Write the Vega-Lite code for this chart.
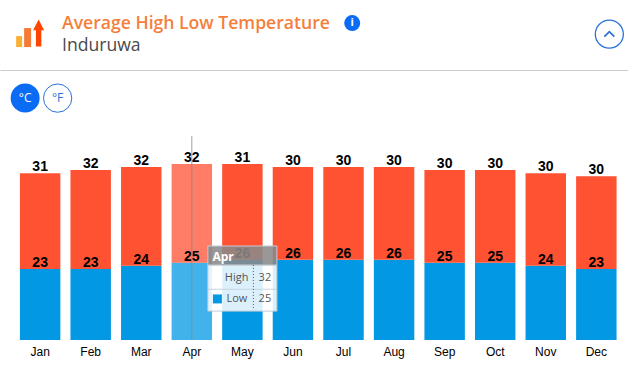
{
"$schema":"https://vega.github.io/schema/vega-lite/v6.json",
"width":628,"height":270,
"padding":{"left":0,"right":0,"top":70,"bottom":37},
"autosize":{"type":"none"},
"background":"white",
"config":{"view":{"stroke":null}},
"title":{"text":"Average High Low Temperature","subtitle":"Induruwa","anchor":"start","frame":"group","dx":62,"offset":-40,"font":"Open Sans","fontSize":17.6,"fontWeight":600,"color":"#f47f3c","subtitleFont":"Open Sans","subtitleFontSize":17.6,"subtitleColor":"#4a4a4a","subtitlePadding":5},
"layer":[
{"data":{"values":[
{"month":"Jan","series":"Low","value":23},{"month":"Jan","series":"High","value":31},
{"month":"Feb","series":"Low","value":23},{"month":"Feb","series":"High","value":32},
{"month":"Mar","series":"Low","value":24},{"month":"Mar","series":"High","value":32},
{"month":"Apr","series":"Low","value":25},{"month":"Apr","series":"High","value":32},
{"month":"May","series":"Low","value":26},{"month":"May","series":"High","value":31},
{"month":"Jun","series":"Low","value":26},{"month":"Jun","series":"High","value":30},
{"month":"Jul","series":"Low","value":26},{"month":"Jul","series":"High","value":30},
{"month":"Aug","series":"Low","value":26},{"month":"Aug","series":"High","value":30},
{"month":"Sep","series":"Low","value":25},{"month":"Sep","series":"High","value":30},
{"month":"Oct","series":"Low","value":25},{"month":"Oct","series":"High","value":30},
{"month":"Nov","series":"Low","value":24},{"month":"Nov","series":"High","value":30},
{"month":"Dec","series":"Low","value":23},{"month":"Dec","series":"High","value":30}
]},
"transform":[{"stack":"value","groupby":["month"],"sort":[{"field":"series","order":"descending"}],"as":["y0","y1"]}],
"layer":[
{"mark":{"type":"bar","width":{"band":1}},
"encoding":{
"x":{"field":"month","type":"nominal","sort":null,"scale":{"domain":["Jan","Feb","Mar","Apr","May","Jun","Jul","Aug","Sep","Oct","Nov","Dec"],"paddingInner":0.2,"paddingOuter":0.31,"align":0.635},"axis":{"title":null,"domain":false,"ticks":false,"labelAngle":0,"labelPadding":6,"labelFont":"Liberation Sans","labelFontSize":12,"labelColor":"#000"}},
"y":{"field":"y1","type":"quantitative","scale":{"domain":[0,87.4],"nice":false},"axis":{"title":null,"values":[87.4],"labels":false,"ticks":false,"domain":false,"grid":true,"gridColor":"#cccccc"}},
"y2":{"field":"y0"},
"color":{"field":"series","type":"nominal","scale":{"domain":["High","Low"],"range":["#ff5233","#0398e3"]},"legend":null},
"opacity":{"condition":{"test":"datum.month==='Apr'","value":0.75},"value":1}
}},
{"mark":{"type":"text","font":"Liberation Sans","fontSize":14,"fontWeight":"bold","color":"#000","baseline":"alphabetic","dy":-2},
"encoding":{
"x":{"field":"month","type":"nominal","sort":null},
"y":{"field":"y1","type":"quantitative"},
"text":{"field":"value","type":"quantitative"}
}}
]},
{"data":{"values":[{"label":"rule"}]},"mark":{"type":"rule","color":"#888","strokeWidth":1,"opacity":0.8},
"encoding":{"x":{"datum":"Apr"},"y":{"datum":66},"y2":{"datum":0}}},
{"data":{"values":[{"label":"box"}]},"mark":{"type":"rect","width":69,"height":46,"fill":"#ffffff","fillOpacity":0.86,"stroke":"#c3cbd6","strokeWidth":1},
"encoding":{"x":{"datum":"May"},"y":{"datum":16.8}}},
{"data":{"values":[{"label":"head"}]},"mark":{"type":"rect","width":69,"height":19,"fill":"#8a8a8a","fillOpacity":0.88,"stroke":"#c3cbd6","strokeWidth":1},
"encoding":{"x":{"datum":"May"},"y":{"datum":27.35}}},
{"data":{"values":[{"label":"sep"}]},"mark":{"type":"rect","width":69,"height":1,"fill":"#c5d3e0"},
"encoding":{"x":{"datum":"May"},"y":{"datum":16.4}}},
{"data":{"values":[{"label":"dots"}]},"mark":{"type":"rule","color":"#555","strokeDash":[1,2],"xOffset":11},
"encoding":{"x":{"datum":"May"},"y":{"datum":24.3},"y2":{"datum":9.7}}},
{"data":{"values":[{"label":"swatch"}]},"mark":{"type":"rect","width":9,"height":9,"fill":"#0398e3","xOffset":-25},
"encoding":{"x":{"datum":"May"},"y":{"datum":13.3}}},
{"data":{"values":[{"label":"Apr"}]},"mark":{"type":"text","font":"Open Sans","fontSize":12,"fontWeight":"bold","color":"#fff","align":"left","dx":-30},
"encoding":{"x":{"datum":"May"},"y":{"datum":26.9},"text":{"field":"label"}}},
{"data":{"values":[{"label":"High"}]},"mark":{"type":"text","font":"Open Sans","fontSize":11,"color":"#555","align":"right","dx":6},
"encoding":{"x":{"datum":"May"},"y":{"datum":20},"text":{"field":"label"}}},
{"data":{"values":[{"label":"Low"}]},"mark":{"type":"text","font":"Open Sans","fontSize":11,"color":"#555","align":"right","dx":5},
"encoding":{"x":{"datum":"May"},"y":{"datum":13.3},"text":{"field":"label"}}},
{"data":{"values":[{"label":"32"}]},"mark":{"type":"text","font":"Open Sans","fontSize":11,"color":"#555","dx":22.5},
"encoding":{"x":{"datum":"May"},"y":{"datum":20},"text":{"field":"label"}}},
{"data":{"values":[{"label":"25"}]},"mark":{"type":"text","font":"Open Sans","fontSize":11,"color":"#555","dx":22.5},
"encoding":{"x":{"datum":"May"},"y":{"datum":13.3},"text":{"field":"label"}}},
{"data":{"values":[{"label":"°C"}]},"mark":{"type":"point","shape":"circle","filled":true,"size":841,"fill":"#0a6cf5","opacity":1,"xOffset":-15},
"encoding":{"x":{"datum":"Jan"},"y":{"datum":78.3}}},
{"data":{"values":[{"label":"°C"}]},"mark":{"type":"text","font":"Open Sans","fontSize":12,"color":"#fff","dx":-15},
"encoding":{"x":{"datum":"Jan"},"y":{"datum":78.3},"text":{"field":"label"}}},
{"data":{"values":[{"label":"°F"}]},"mark":{"type":"point","shape":"circle","filled":false,"size":800,"stroke":"#2a72d8","strokeWidth":1,"opacity":1,"xOffset":17.5},
"encoding":{"x":{"datum":"Jan"},"y":{"datum":78.3}}},
{"data":{"values":[{"label":"°F"}]},"mark":{"type":"text","font":"Open Sans","fontSize":12,"color":"#2a72d8","dx":17.5},
"encoding":{"x":{"datum":"Jan"},"y":{"datum":78.3},"text":{"field":"label"}}},
{"data":{"values":[{"label":"bar1"}]},"mark":{"type":"rect","width":6,"height":11,"fill":"#fbb034","xOffset":-21},
"encoding":{"x":{"datum":"Jan"},"y":{"datum":96.6}}},
{"data":{"values":[{"label":"bar2"}]},"mark":{"type":"rect","width":7,"height":19,"fill":"#f47a35","xOffset":-12.5},
"encoding":{"x":{"datum":"Jan"},"y":{"datum":97.9}}},
{"data":{"values":[{"label":"arrow"}]},"mark":{"type":"point","filled":true,"opacity":1,"fill":"#ff4500","size":729,"xOffset":-1.5,"shape":"M-0.2,1V-0.2H-0.41L0,-1L0.41,-0.2H0.2V1Z"},
"encoding":{"x":{"datum":"Jan"},"y":{"datum":99.4}}},
{"data":{"values":[{"label":"info"}]},"mark":{"type":"point","shape":"circle","filled":true,"size":256,"fill":"#0a6cf5","opacity":1,"xOffset":8.7},
"encoding":{"x":{"datum":"Jul"},"y":{"datum":102.6}}},
{"data":{"values":[{"label":"i"}]},"mark":{"type":"text","font":"Open Sans","fontSize":11,"fontWeight":"bold","color":"#fff","dx":8.7},
"encoding":{"x":{"datum":"Jul"},"y":{"datum":102.6},"text":{"field":"label"}}},
{"data":{"values":[{"label":"collapse"}]},"mark":{"type":"point","shape":"circle","filled":false,"size":784,"stroke":"#2a72d8","strokeWidth":1.3,"opacity":1,"xOffset":13},
"encoding":{"x":{"datum":"Dec"},"y":{"datum":99}}},
{"data":{"values":[{"label":"chevron"}]},"mark":{"type":"point","filled":false,"opacity":1,"stroke":"#2a72d8","strokeWidth":1.8,"size":100,"xOffset":13,"shape":"M-1,0.5L0,-0.5L1,0.5"},
"encoding":{"x":{"datum":"Dec"},"y":{"datum":99}}}
]
}
